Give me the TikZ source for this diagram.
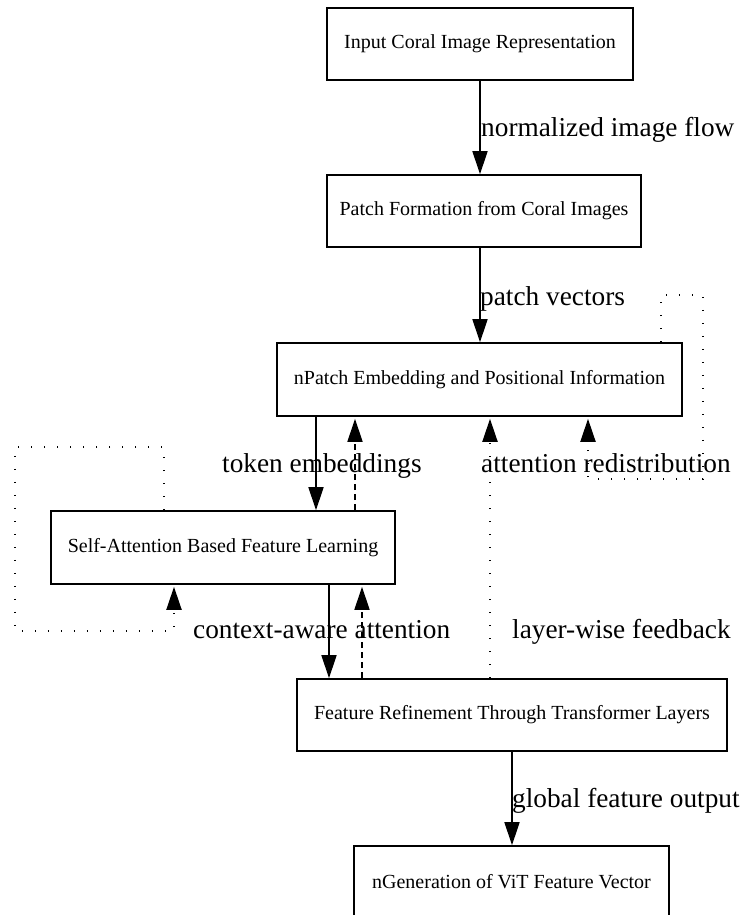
\documentclass[tikz,border=0pt]{standalone}
\usepackage{fontspec}
\setmainfont{Liberation Serif}
\usetikzlibrary{arrows.meta}
\begin{document}
\begin{tikzpicture}[x=1pt,y=-1pt,
  box/.style={draw,line width=1.6pt,inner sep=0pt,font=\fontsize{20}{24}\selectfont},
  lbl/.style={anchor=base west,inner sep=0pt,font=\fontsize{27.3}{32}\selectfont},
  flow/.style={line width=1.6pt,-{Triangle[length=23pt,width=15pt]}},
  back/.style={flow,shorten >=2pt},
  dsh/.style={dash pattern=on 6pt off 4pt},
  dots/.style={line width=2pt,dash pattern=on 1.4pt off 11.6pt}]
\clip (0,0) rectangle (749,915);
\fill[white] (0,0) rectangle (749,915);
\node[box,minimum width=306pt,minimum height=72pt] (b1) at (480,44) {Input Coral Image Representation};
\node[box,minimum width=314pt,minimum height=72pt] (b2) at (484,211) {Patch Formation from Coral Images};
\node[box,minimum width=405pt,minimum height=73pt] (b3) at (479.5,379.5) {nPatch Embedding and Positional Information};
\node[box,minimum width=344pt,minimum height=73pt] (b4) at (223,547.5) {Self-Attention Based Feature Learning};
\node[box,minimum width=430pt,minimum height=72pt] (b5) at (512,715) {Feature Refinement Through Transformer Layers};
\node[box,minimum width=315pt,minimum height=72pt] (b6) at (511.5,882) {nGeneration of ViT Feature Vector};
% named corner points of the loops
\coordinate (l3a) at (661,295);
\coordinate (l3b) at (703,295);
\coordinate (l3c) at (703,479);
\coordinate (l3d) at (588,479);
\coordinate (l4a) at (164,447);
\coordinate (l4b) at (15,447);
\coordinate (l4c) at (15,631);
\coordinate (l4d) at (174,631);
\coordinate (x316) at (316,0);
\coordinate (x355) at (355,0);
\coordinate (x329) at (329,0);
\coordinate (x362) at (362,0);
\coordinate (x490) at (490,0);
% edges
\draw[flow] (b1.south) -- (b1.south |- b2.north);
\draw[flow] (b1.south |- b2.south) -- (b1.south |- b3.north);
\draw[flow] (b3.south -| x316) -- (b4.north -| x316);
\draw[back,dsh] (b4.north -| x355) -- (b3.south -| x355);
\draw[back,dots] (b3.north -| l3a) -- (l3a) -- (l3b) -- (l3c) -- (l3d) -- (b3.south -| l3d);
\draw[back,dots] (b4.north -| l4a) -- (l4a) -- (l4b) -- (l4c) -- (l4d) -- (b4.south -| l4d);
\draw[flow] (b4.south -| x329) -- (b5.north -| x329);
\draw[back,dsh] (b5.north -| x362) -- (b4.south -| x362);
\draw[back,dots] (b5.north -| x490) -- (b3.south -| x490);
\draw[flow] (b5.south) -- (b5.south |- b6.north);
% labels
\node[lbl] (t1) at (481,136) {normalized image flow};
\node[lbl] (t2) at (480,305) {patch vectors};
\node[lbl] (t3) at (222,472) {token embeddings};
\node[lbl] (t4) at (481,472) {attention redistribution};
\node[lbl] (t5) at (193,638) {context-aware attention};
\node[lbl] (t6) at (512,638) {layer-wise feedback};
\node[lbl] (t7) at (512,807) {global feature output};
\end{tikzpicture}
\end{document}
